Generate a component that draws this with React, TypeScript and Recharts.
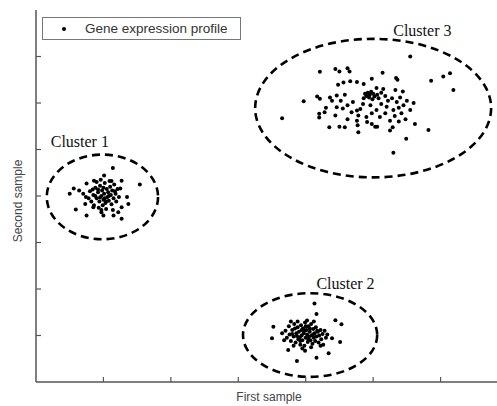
import React from 'react'
import {
  ScatterChart,
  Scatter,
  XAxis,
  YAxis,
  ReferenceArea,
  ReferenceDot,
  Legend,
} from 'recharts'

// points, [first sample, second sample]
const cluster1: [number, number][] = [
  [1.14, 4.6], [1.54, 4.25], [1.01, 4.44], [0.86, 4.33], [0.75, 4.27], [0.56, 4.16],
  [0.5, 4.05], [0.64, 4.12], [1.27, 4.33], [1.25, 4.16], [1.35, 3.98], [1.37, 3.83],
  [1.27, 3.76], [1.22, 3.65], [1.27, 3.51], [1.15, 3.58], [0.97, 3.65], [0.85, 3.76],
  [0.73, 3.83], [0.59, 3.71], [0.75, 3.58], [1.0, 3.58],
  [0.8, 4.1], [0.85, 4.02], [0.88, 4.18], [0.9, 3.95], [0.92, 4.08], [0.94, 3.88],
  [0.95, 4.22], [0.97, 4.0], [0.98, 4.12], [1.0, 3.92], [1.01, 4.05], [1.02, 4.28],
  [1.03, 3.85], [1.05, 4.15], [1.06, 3.98], [1.07, 4.08], [1.08, 3.9], [1.1, 4.2],
  [1.11, 4.02], [1.12, 3.82], [1.13, 4.12], [1.15, 3.95], [1.16, 4.25], [1.18, 4.05],
  [1.19, 3.88], [1.21, 4.15], [1.23, 3.98], [0.78, 3.95], [0.82, 3.88], [0.86, 3.8],
  [0.9, 4.3], [0.93, 3.75], [0.96, 4.35], [0.99, 3.8], [1.04, 3.72], [1.09, 4.32],
  [1.14, 3.7], [0.7, 4.05], [0.74, 3.98], [0.88, 4.0], [0.95, 3.97], [1.02, 3.95],
  [1.08, 4.0], [0.92, 4.14], [1.0, 4.18], [1.04, 3.88], [0.84, 4.14], [1.17, 4.1],
  [1.12, 4.32], [0.97, 3.7],
]

const cluster2: [number, number][] = [
  [4.13, 1.69], [4.16, 1.46], [4.44, 1.33], [4.53, 1.24], [3.52, 1.19], [3.5, 0.94],
  [4.51, 0.86], [4.39, 0.94], [4.34, 0.62], [4.16, 0.52], [3.87, 0.45], [3.74, 0.69],
  [3.99, 0.67],
  [3.7, 1.1], [3.72, 0.95], [3.75, 1.2], [3.76, 1.02], [3.78, 0.88], [3.8, 1.12],
  [3.82, 0.98], [3.83, 1.25], [3.85, 0.85], [3.86, 1.05], [3.88, 1.18], [3.89, 0.92],
  [3.9, 1.08], [3.92, 0.8], [3.93, 1.22], [3.94, 1.0], [3.95, 0.9], [3.96, 1.15],
  [3.97, 1.05], [3.98, 0.78], [3.99, 1.28], [4.0, 0.95], [4.01, 1.12], [4.02, 1.02],
  [4.03, 0.86], [4.04, 1.2], [4.05, 0.98], [4.06, 1.08], [4.07, 0.9], [4.08, 1.25],
  [4.09, 1.0], [4.1, 0.82], [4.11, 1.14], [4.12, 0.95], [4.13, 1.05], [4.14, 0.88],
  [4.15, 1.18], [4.16, 0.98], [4.18, 1.08], [4.19, 0.85], [4.2, 1.0], [4.22, 1.12],
  [4.23, 0.92], [4.25, 1.03], [4.26, 0.8], [4.28, 1.1], [4.3, 0.95], [4.32, 1.02],
  [3.78, 1.3], [3.88, 1.3], [4.02, 1.32], [4.12, 1.3], [3.65, 1.05], [3.68, 0.9],
  [3.82, 0.78], [3.95, 0.72], [4.08, 0.75], [4.22, 0.78], [3.84, 1.15], [3.91, 0.96],
  [3.98, 1.1], [4.04, 0.92], [4.11, 1.02], [3.87, 0.99], [3.94, 1.12], [4.17, 1.1],
  [3.8, 1.03], [4.06, 1.15], [3.92, 0.88], [4.0, 1.2],
]

const cluster3: [number, number][] = [
  [5.55, 7.0], [4.21, 6.67], [4.44, 6.73], [4.5, 6.68], [4.62, 6.75], [4.65, 6.68],
  [5.14, 6.65], [5.34, 6.54], [5.36, 6.5], [5.86, 6.48], [6.04, 6.57], [6.14, 6.64],
  [6.19, 6.28], [4.48, 6.39], [4.56, 6.44], [4.66, 6.47], [4.76, 6.45], [4.86, 6.41],
  [4.98, 6.52], [5.05, 6.32], [5.15, 6.3], [5.33, 6.28], [5.44, 6.25], [3.97, 6.04],
  [3.65, 5.67], [4.17, 6.14], [4.21, 6.09], [4.36, 6.12], [4.39, 6.05], [4.46, 6.16],
  [4.58, 6.18], [4.2, 5.77], [4.2, 5.69], [4.46, 5.91], [4.44, 5.73], [4.76, 5.84],
  [4.81, 5.87], [4.78, 5.73], [4.76, 5.62], [4.77, 5.52], [4.78, 5.37], [4.35, 5.48],
  [4.5, 5.49], [4.58, 5.48], [4.91, 5.59], [4.98, 5.55], [5.03, 5.49], [5.06, 5.49],
  [5.25, 5.62], [5.29, 5.48], [5.25, 5.41], [5.62, 5.55], [5.82, 5.42], [5.49, 5.23],
  [5.3, 4.93],
  [4.88, 6.2], [4.92, 6.22], [4.95, 6.18], [4.97, 6.24], [5.0, 6.2], [4.9, 6.15],
  [4.94, 6.12], [5.02, 6.14], [5.06, 6.18], [4.86, 6.1], [4.99, 6.08], [5.08, 6.1],
  [5.12, 6.22], [5.18, 6.15], [5.22, 6.05], [5.28, 6.1], [5.35, 6.02], [5.4, 6.12],
  [5.45, 5.95], [5.5, 6.05], [5.38, 5.9], [5.3, 5.85], [5.2, 5.92], [5.12, 5.98],
  [5.05, 5.85], [4.96, 5.95], [4.85, 5.98], [4.7, 6.02], [4.62, 5.95], [4.55, 5.88],
  [4.52, 6.05], [4.68, 5.8], [4.98, 5.78], [5.1, 5.7], [5.18, 5.78], [5.32, 5.72],
  [5.42, 5.78], [5.55, 5.85], [5.6, 6.0], [5.48, 5.65], [5.38, 5.6], [4.9, 5.7],
  [4.62, 5.65], [4.3, 5.9], [4.28, 5.8],
]

const clusterNames = ['Cluster 1', 'Cluster 2', 'Cluster 3']
// dashed ellipse bounds: [xMin, xMax, yMin, yMax]
const ellipseBounds: [number, number, number, number][] = [
  [0.16, 1.81, 3.07, 4.89],
  [3.07, 5.06, 0.11, 1.91],
  [3.25, 6.75, 4.4, 7.38],
]
// label anchor (text baseline centre)
const labelAnchors: [number, number][] = [
  [0.65, 5.06],
  [4.59, 1.99],
  [5.73, 7.45],
]

const xTicks = [1, 2, 3, 4, 5, 6]
const yTicks = [1, 2, 3, 4, 5, 6, 7]

const points = [...cluster1, ...cluster2, ...cluster3].map(([x, y]) => ({ x, y }))

const AXIS = '#555'
const SERIF = "'Times New Roman', 'Liberation Serif', serif"
const SANS = "Arial, 'Liberation Sans', sans-serif"

const NoLabel = () => <g />
const tickLine = { stroke: AXIS, strokeWidth: 1.2 }

const LegendBox = () => (
  <div
    style={{
      width: 197,
      height: 21,
      border: '1px solid #777',
      background: '#fff',
      display: 'flex',
      alignItems: 'center',
      fontFamily: SANS,
      fontSize: 13.5,
      color: '#333',
    }}
  >
    <span
      style={{
        display: 'inline-block',
        width: 4,
        height: 4,
        borderRadius: 2,
        background: '#000',
        marginLeft: 19,
        marginRight: 19,
      }}
    />
    <span>Gene expression profile</span>
  </div>
)

export default function App() {
  return (
    <div style={{ position: 'absolute', left: 0, top: 0, width: 497, height: 406, overflow: 'hidden', background: '#fff' }}>
      <ScatterChart width={520} height={406} margin={{ top: 10, right: 12, left: 0, bottom: 0 }}>
        <XAxis
          type="number"
          dataKey="x"
          domain={[0, 7]}
          ticks={xTicks}
          tick={NoLabel}
          tickLine={tickLine}
          tickSize={-5}
          height={24}
          stroke={AXIS}
          strokeWidth={1.5}
          allowDataOverflow
          label={{
            content: ({ viewBox }: any) => (
              <text
                x={viewBox.x + viewBox.width / 2 - 3}
                y={viewBox.y + viewBox.height - 5}
                textAnchor="middle"
                fontFamily={SANS}
                fontSize={12}
                fill="#444"
              >
                First sample
              </text>
            ),
          }}
        />
        <XAxis
          xAxisId="top"
          orientation="top"
          type="number"
          domain={[0, 7]}
          ticks={xTicks}
          tick={NoLabel}
          tickLine={tickLine}
          tickSize={-5}
          height={0}
          stroke={AXIS}
          strokeWidth={1.5}
          allowDataOverflow
        />
        <YAxis
          type="number"
          dataKey="y"
          domain={[0, 8]}
          ticks={yTicks}
          tick={NoLabel}
          tickLine={tickLine}
          tickSize={-5}
          width={36}
          stroke={AXIS}
          strokeWidth={1.5}
          allowDataOverflow
          label={{
            content: ({ viewBox }: any) => {
              const cx = 18
              const cy = viewBox.y + viewBox.height / 2 + 5
              return (
                <text
                  x={cx}
                  y={cy}
                  transform={`rotate(-90, ${cx}, ${cy})`}
                  textAnchor="middle"
                  dominantBaseline="central"
                  fontFamily={SANS}
                  fontSize={12}
                  fill="#444"
                >
                  Second sample
                </text>
              )
            },
          }}
        />
        <YAxis
          yAxisId="right"
          orientation="right"
          type="number"
          domain={[0, 8]}
          ticks={yTicks}
          tick={NoLabel}
          tickLine={tickLine}
          tickSize={-5}
          width={0}
          stroke={AXIS}
          strokeWidth={1.5}
          allowDataOverflow
        />
        <Legend
          layout="horizontal"
          verticalAlign="middle"
          align="center"
          wrapperStyle={{ left: 42, top: 17, width: 200, height: 23 }}
          content={() => <LegendBox />}
        />
        {ellipseBounds.map(([x1, x2, y1, y2], i) => (
          <ReferenceArea
            key={clusterNames[i]}
            x1={x1}
            x2={x2}
            y1={y1}
            y2={y2}
            ifOverflow="visible"
            shape={(p: any) => (
              <ellipse
                cx={p.x + p.width / 2}
                cy={p.y + p.height / 2}
                rx={Math.abs(p.width) / 2}
                ry={Math.abs(p.height) / 2}
                fill="none"
                stroke="#000"
                strokeWidth={2.6}
                strokeDasharray="8 5"
              />
            )}
          />
        ))}
        <Scatter
          name="Gene expression profile"
          data={points}
          fill="#000"
          isAnimationActive={false}
          shape={(p: any) => <circle cx={p.cx} cy={p.cy} r={2} fill="#000" />}
        />
        {labelAnchors.map(([x, y], i) => (
          <ReferenceDot
            key={clusterNames[i]}
            x={x}
            y={y}
            ifOverflow="visible"
            shape={(p: any) => (
              <text x={p.cx} y={p.cy} textAnchor="middle" fontFamily={SERIF} fontSize={16} fill="#111">
                {clusterNames[i]}
              </text>
            )}
          />
        ))}
      </ScatterChart>
    </div>
  )
}
